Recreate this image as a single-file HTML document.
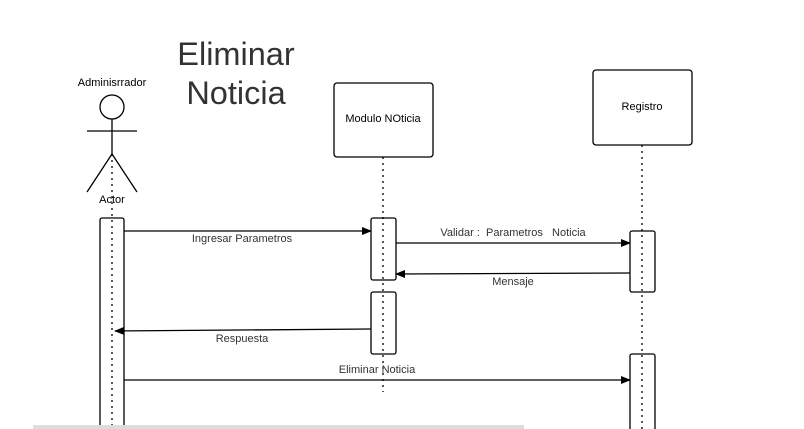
<!DOCTYPE html>
<html><head><meta charset="utf-8"><style>
html,body{margin:0;padding:0;background:#fff;}
svg{display:block;font-family:"Liberation Sans",sans-serif;}
</style></head><body>
<svg width="804" height="429" viewBox="0 0 804 429" xmlns="http://www.w3.org/2000/svg">
<defs><marker id="a" markerWidth="10" markerHeight="8" refX="9" refY="4" orient="auto" markerUnits="userSpaceOnUse"><path d="M0,0 L10,4 L0,8 z" fill="#000"/></marker></defs>
<text x="236" y="65" font-size="32.5" fill="#333" text-anchor="middle">Eliminar</text>
<text x="236" y="104" font-size="32.5" fill="#333" text-anchor="middle">Noticia</text>
<text x="112" y="86" font-size="11" text-anchor="middle">Adminisrrador</text>
<g stroke="#000" stroke-width="1.3" fill="none">
<circle cx="112" cy="107" r="12"/>
<line x1="87" y1="131" x2="137" y2="131"/>
<line x1="112" y1="119" x2="112" y2="154"/>
<line x1="112" y1="154" x2="87" y2="192"/>
<line x1="112" y1="154" x2="137" y2="192"/>
<rect x="100" y="218" width="24" height="220" rx="2" fill="#fff"/>
<rect x="334" y="83" width="99" height="74" rx="3" fill="#fff"/>
<rect x="593" y="70" width="99" height="75" rx="3" fill="#fff"/>
<rect x="371" y="218" width="25" height="62" rx="2" fill="#fff"/>
<rect x="371" y="292" width="25" height="62" rx="2" fill="#fff"/>
<rect x="630" y="231" width="25" height="61" rx="2" fill="#fff"/>
<rect x="630" y="354" width="25" height="80" rx="2" fill="#fff"/>
</g>
<text x="112" y="203" font-size="11" text-anchor="middle">Actor</text>
<g stroke="#000" stroke-width="1.3" stroke-dasharray="2,4">
<line x1="112" y1="154" x2="112" y2="429"/>
<line x1="383" y1="157" x2="383" y2="392"/>
<line x1="642" y1="145" x2="642" y2="429"/>
</g>
<text x="383" y="122" font-size="11" text-anchor="middle">Modulo NOticia</text>
<text x="642" y="110" font-size="11" text-anchor="middle">Registro</text>
<g stroke="#000" stroke-width="1.3" marker-end="url(#a)">
<line x1="124" y1="231" x2="371" y2="231"/>
<line x1="396" y1="243" x2="630" y2="243"/>
<line x1="630" y1="273" x2="396" y2="274"/>
<line x1="371" y1="329" x2="115" y2="331"/>
<line x1="124" y1="380" x2="630" y2="380"/>
</g>
<g font-size="11" fill="#333" text-anchor="middle">
<text x="242" y="242">Ingresar Parametros</text>
<text x="513" y="236" xml:space="preserve">Validar :  Parametros   Noticia</text>
<text x="513" y="285">Mensaje</text>
<text x="242" y="342">Respuesta</text>
<text x="377" y="373">Eliminar Noticia</text>
</g>
<rect x="33" y="425" width="491" height="4" fill="#ddd"/>
</svg>
</body></html>
